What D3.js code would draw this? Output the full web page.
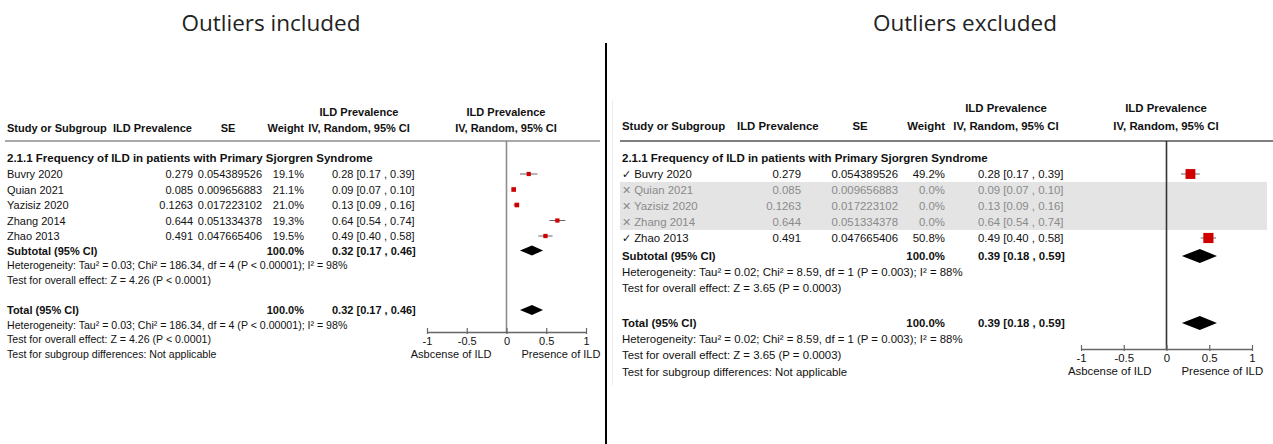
<!DOCTYPE html>
<html>
<head>
<meta charset="utf-8">
<script src="https://cdn.jsdelivr.net/npm/d3@7"></script>
<style>
  html, body { margin: 0; padding: 0; background: #fff; }
  svg { display: block; }
  text { font-family: "Liberation Sans", Arial, sans-serif; fill: #111; }
  .title { font-family: "Open Sans", "Noto Sans", sans-serif; font-size: 22.5px; fill: #222; }
  .b { font-weight: bold; }
</style>
</head>
<body>
<script>
// chart values
var studies = ["Buvry 2020", "Quian 2021", "Yazisiz 2020", "Zhang 2014", "Zhao 2013"];
var prevalence = ["0.279", "0.085", "0.1263", "0.644", "0.491"];
var seValues = ["0.054389526", "0.009656883", "0.017223102", "0.051334378", "0.047665406"];
var estimate = [0.28, 0.09, 0.13, 0.64, 0.49];
var ciLow = [0.17, 0.07, 0.09, 0.54, 0.40];
var ciHigh = [0.39, 0.10, 0.16, 0.74, 0.58];
var weightIncluded = [19.1, 21.1, 21.0, 19.3, 19.5];
var weightExcluded = [49.2, 0, 0, 0, 50.8];
var excluded = [false, true, true, true, false];
var pooledIncluded = [0.32, 0.17, 0.46];
var pooledExcluded = [0.39, 0.18, 0.59];
var hetIncluded = "Heterogeneity: Tau\u00b2 = 0.03; Chi\u00b2 = 186.34, df = 4 (P < 0.00001); I\u00b2 = 98%";
var testIncluded = "Test for overall effect: Z = 4.26 (P < 0.0001)";
var hetExcluded = "Heterogeneity: Tau\u00b2 = 0.02; Chi\u00b2 = 8.59, df = 1 (P = 0.003); I\u00b2 = 88%";
var testExcluded = "Test for overall effect: Z = 3.65 (P = 0.0003)";
var groupTitle = "2.1.1 Frequency of ILD in patients with Primary Sjorgren Syndrome";
var axisTicks = [-1, -0.5, 0, 0.5, 1];
var panelTitles = ["Outliers included", "Outliers excluded"];

var svg = d3.select("body").append("svg")
    .attr("width", 1273)
    .attr("height", 444);

// divider between the two panels
svg.append("line")
    .attr("x1", 606).attr("x2", 606)
    .attr("y1", 43).attr("y2", 444)
    .attr("stroke", "#000").attr("stroke-width", 2);

// faint frame of the right screenshot
svg.append("line")
    .attr("x1", 612.5).attr("x2", 612.5)
    .attr("y1", 100).attr("y2", 385)
    .attr("stroke", "#ececec").attr("stroke-width", 1);

var fmtCI = function(i) {
    return estimate[i].toFixed(2) + " [" + ciLow[i].toFixed(2) + " , " + ciHigh[i].toFixed(2) + "]";
};
var fmtPooled = function(p) {
    return p[0].toFixed(2) + " [" + p[1].toFixed(2) + " , " + p[2].toFixed(2) + "]";
};

function drawPanel(cfg) {
    var g = svg.append("g");

    g.append("text").attr("class", "title")
        .attr("x", cfg.titleX).attr("y", 22)
        .attr("text-anchor", "middle").attr("dominant-baseline", "central")
        .text(cfg.title);

    var x = d3.scaleLinear().domain([-1, 1]).range(cfg.range);
    var rowY = function(i) { return cfg.rowY0 + i * cfg.rowStep; };
    var size = d3.scaleLinear().domain([0, 50]).range([0, cfg.markerMax]);

    function txt(xp, yp, s, anchor, cls, color, fs) {
        return g.append("text")
            .attr("x", xp).attr("y", yp)
            .attr("dominant-baseline", "central")
            .attr("text-anchor", anchor || "start")
            .attr("class", cls || null)
            .style("fill", color || null)
            .style("font-size", (fs || cfg.fs) + "px")
            .text(s);
    }

    // grey band behind excluded rows
    if (cfg.showExcluded) {
        var ex = excluded.map(function(d, i) { return d ? i : -1; }).filter(function(i) { return i >= 0; });
        g.append("rect")
            .attr("x", cfg.bandX0)
            .attr("y", rowY(d3.min(ex)) - cfg.rowStep / 2)
            .attr("width", cfg.bandX1 - cfg.bandX0)
            .attr("height", ex.length * cfg.rowStep)
            .attr("fill", "#e4e4e4");
    }

    // header
    txt(cfg.studyX, cfg.head2Y, "Study or Subgroup", "start", "b");
    txt(cfg.prevHeadX, cfg.head2Y, "ILD Prevalence", "start", "b");
    txt(cfg.seHeadX, cfg.head2Y, "SE", "middle", "b");
    txt(cfg.weightRight, cfg.head2Y, "Weight", "end", "b");
    txt(cfg.ciHeadX, cfg.head1Y, "ILD Prevalence", "middle", "b");
    txt(cfg.ciHeadX, cfg.head2Y, "IV, Random, 95% CI", "middle", "b");
    txt(cfg.plotHeadX, cfg.head1Y, "ILD Prevalence", "middle", "b");
    txt(cfg.plotHeadX, cfg.head2Y, "IV, Random, 95% CI", "middle", "b");

    g.append("line")
        .attr("x1", cfg.lineX0).attr("x2", cfg.lineX1)
        .attr("y1", cfg.lineY).attr("y2", cfg.lineY)
        .attr("stroke", cfg.lineColor).attr("stroke-width", 1.6);

    // zero line
    g.append("line")
        .attr("x1", x(0)).attr("x2", x(0))
        .attr("y1", cfg.lineY).attr("y2", cfg.axisY)
        .attr("stroke", cfg.zeroColor).attr("stroke-width", 1.6);

    txt(cfg.studyX, cfg.headingY, groupTitle, "start", "b", null, cfg.headFs);

    studies.forEach(function(s, i) {
        var y = rowY(i);
        var off = cfg.showExcluded && excluded[i];
        var col = off ? "#8a8a8a" : null;
        var w = cfg.weights[i];
        var label = cfg.showExcluded ? (off ? "\u2715 " : "\u2713 ") + s : s;
        txt(cfg.studyX, y, label, "start", null, col);
        txt(cfg.prevRight, y, prevalence[i], "end", null, col);
        txt(cfg.seRight, y, seValues[i], "end", null, col);
        txt(cfg.weightRight, y, w.toFixed(1) + "%", "end", null, col);
        txt(cfg.ciX, y, fmtCI(i), "start", null, col);

        if (w > 0) {
            g.append("line")
                .attr("x1", x(ciLow[i])).attr("x2", x(ciHigh[i]))
                .attr("y1", y).attr("y2", y)
                .attr("stroke", "#666").attr("stroke-width", 1);
            var m = size(w);
            g.append("rect")
                .attr("x", x(estimate[i]) - m / 2)
                .attr("y", y - m / 2)
                .attr("width", m).attr("height", m)
                .attr("fill", "#d00000");
        }
    });

    function diamond(p, y) {
        var h = cfg.diamondH;
        g.append("path")
            .attr("d", "M" + x(p[1]) + "," + y + "L" + x(p[0]) + "," + (y - h) +
                "L" + x(p[2]) + "," + y + "L" + x(p[0]) + "," + (y + h) + "Z")
            .attr("fill", "#000");
    }

    txt(cfg.studyX, cfg.subtotalY, "Subtotal (95% CI)", "start", "b");
    txt(cfg.weightRight, cfg.subtotalY, "100.0%", "end", "b");
    txt(cfg.ciX, cfg.subtotalY, fmtPooled(cfg.pooled), "start", "b");
    diamond(cfg.pooled, cfg.subtotalY);
    txt(cfg.studyX, cfg.subtotalY + cfg.lineStep, cfg.het, "start", null, null, cfg.noteFs);
    txt(cfg.studyX, cfg.subtotalY + 2 * cfg.lineStep, cfg.test, "start", null, null, cfg.noteFs);

    txt(cfg.studyX, cfg.totalY, "Total (95% CI)", "start", "b");
    txt(cfg.weightRight, cfg.totalY, "100.0%", "end", "b");
    txt(cfg.ciX, cfg.totalY, fmtPooled(cfg.pooled), "start", "b");
    diamond(cfg.pooled, cfg.totalY);
    txt(cfg.studyX, cfg.totalY + cfg.lineStep, cfg.het, "start", null, null, cfg.noteFs);
    txt(cfg.studyX, cfg.totalY + 2 * cfg.lineStep, cfg.test, "start", null, null, cfg.noteFs);
    txt(cfg.studyX, cfg.totalY + 3 * cfg.lineStep, "Test for subgroup differences: Not applicable", "start", null, null, cfg.noteFs);

    // axis
    var axis = d3.axisBottom(x)
        .tickValues(axisTicks)
        .tickFormat(function(d) { return String(d); })
        .tickSizeOuter(0);
    var ag = g.append("g")
        .attr("transform", "translate(0," + cfg.axisY + ")")
        .call(axis);
    ag.select(".domain").attr("stroke", "#666").attr("stroke-width", 1.5);
    ag.selectAll(".tick line").attr("stroke", "#666").attr("stroke-width", 1.2)
        .attr("y1", -4).attr("y2", 2);
    ag.selectAll(".tick text")
        .attr("y", 9).attr("dy", "0.35em")
        .style("font-family", "'Liberation Sans', Arial, sans-serif")
        .style("font-size", cfg.fs + "px").style("fill", "#111");

    txt(x(0) - 15, cfg.axisLabelY, "Asbcense of ILD", "end");
    txt(x(0) + 15, cfg.axisLabelY, "Presence of ILD", "start");
}

drawPanel({
    title: panelTitles[0], titleX: 271,
    range: [427, 586],
    fs: 11, headFs: 11.5, noteFs: 10.6,
    studyX: 7, prevHeadX: 113, seHeadX: 228, prevRight: 193, seRight: 262, weightRight: 304,
    ciX: 332, ciHeadX: 359, plotHeadX: 506,
    head1Y: 112, head2Y: 128, lineY: 141, lineX0: 5, lineX1: 600,
    lineColor: "#8c8c8c", zeroColor: "#8c8c8c",
    headingY: 158, rowY0: 174, rowStep: 15.5,
    subtotalY: 250.5, totalY: 310, lineStep: 14.7,
    axisY: 332, axisLabelY: 354,
    weights: weightIncluded, pooled: pooledIncluded,
    het: hetIncluded, test: testIncluded,
    markerMax: 11, diamondH: 5, showExcluded: false
});

drawPanel({
    title: panelTitles[1], titleX: 965,
    range: [1081, 1252],
    fs: 11.4, headFs: 11.5, noteFs: 11.4,
    studyX: 622, prevHeadX: 737, seHeadX: 860, prevRight: 801, seRight: 898, weightRight: 945,
    ciX: 978, ciHeadX: 1006, plotHeadX: 1166,
    head1Y: 108, head2Y: 126, lineY: 141, lineX0: 620, lineX1: 1273,
    lineColor: "#555", zeroColor: "#333",
    headingY: 158, rowY0: 174, rowStep: 16,
    subtotalY: 256, totalY: 323, lineStep: 16.2,
    axisY: 349, axisLabelY: 371,
    weights: weightExcluded, pooled: pooledExcluded,
    het: hetExcluded, test: testExcluded,
    markerMax: 10, diamondH: 7, showExcluded: true,
    bandX0: 620, bandX1: 1267
});
</script>
</body>
</html>
